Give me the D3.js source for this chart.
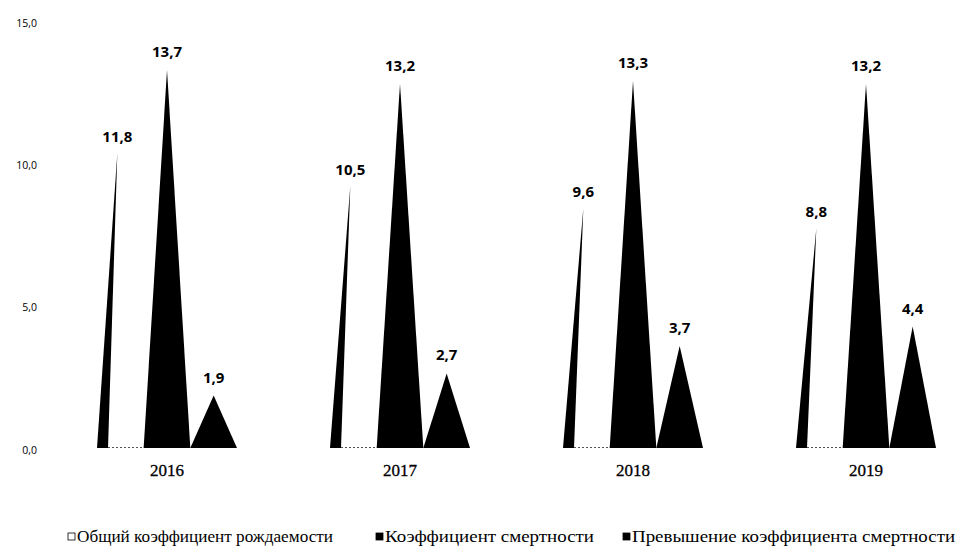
<!DOCTYPE html>
<html><head><meta charset="utf-8">
<script src="https://cdn.jsdelivr.net/npm/d3@7"></script>
<style>
html,body{margin:0;padding:0;background:#fff;}
svg{display:block;}
</style></head>
<body>
<svg id="chart" width="959" height="549"></svg>
<script>
const categories = ["2016", "2017", "2018", "2019"];
const seriesNames = ["Общий коэффициент рождаемости", "Коэффициент смертности", "Превышение коэффициента смертности"];
const birthRate = [11.8, 10.5, 9.6, 8.8];
const deathRate = [13.7, 13.2, 13.3, 13.2];
const excess = [1.9, 2.7, 3.7, 4.4];
const yTicks = [0, 5, 10, 15];
const yTickLabels = ["0,0", "5,0", "10,0", "15,0"];

const svg = d3.select("#chart");
// cones stand on the floor in front; axis labels sit on the back wall (3D chart)
const y = d3.scaleLinear().domain([0, 15]).range([448, 34]);
const yWall = d3.scaleLinear().domain([0, 15]).range([450, 23]);
const x = d3.scalePoint().domain(categories).range([167, 866]);
const inner = d3.scaleBand().domain([0, 1, 2]).range([-70, 70]).padding(0);
const fmt = v => d3.format(".1f")(v).replace(".", ",");
// visible tip of the shaded 3D cone of the first series fades out lower
const coneTip = 0.905;

svg.append("g").selectAll("text").data(yTicks).join("text")
  .attr("x", 37).attr("y", d => yWall(d)).attr("dy", "0.35em")
  .attr("text-anchor", "end")
  .attr("font-family", "Open Sans, sans-serif").attr("font-size", 10.5)
  .text((d, i) => yTickLabels[i]);

const rows = categories.map((c, i) => ({c, vals: [birthRate[i], deathRate[i], excess[i]]}));
const g = svg.append("g");
const lblFont = "Open Sans, sans-serif";
rows.forEach(r => {
  const cx = x(r.c);
  r.vals.forEach((v, s) => {
    const x0 = cx + inner(s), w = inner.bandwidth();
    const base = y(0);
    if (s === 0) {
      const top = y(v * coneTip);
      const ax = x0 + w / 2 - 3;
      g.append("path").attr("d", `M${x0},${base}L${x0 + w},${base}L${ax},${top}Z`).attr("fill", "#fff");
      g.append("path").attr("d", `M${x0},${base}L${x0 + 11},${base}L${ax},${top}Z`).attr("fill", "#000");
      g.append("line").attr("x1", x0 + 11).attr("x2", x0 + w).attr("y1", base - 0.5).attr("y2", base - 0.5)
        .attr("stroke", "#555").attr("stroke-width", 1).attr("stroke-dasharray", "2,2");
      g.append("text").attr("x", ax).attr("y", top - 11)
        .attr("text-anchor", "middle").attr("font-family", lblFont)
        .attr("font-weight", "bold").attr("font-size", 15).text(fmt(v));
    } else {
      const top = y(v);
      const ax = x0 + w / 2;
      g.append("path").attr("d", `M${x0},${base}L${x0 + w},${base}L${ax},${top}Z`).attr("fill", "#000");
      g.append("text").attr("x", ax).attr("y", top - 13)
        .attr("text-anchor", "middle").attr("font-family", lblFont)
        .attr("font-weight", "bold").attr("font-size", 15).text(fmt(v));
    }
  });
});

svg.append("g").selectAll("text").data(categories).join("text")
  .attr("x", d => x(d)).attr("y", 476)
  .attr("text-anchor", "middle")
  .attr("font-family", "Liberation Serif, serif").attr("font-size", 17)
  .attr("stroke", "#000").attr("stroke-width", 0.3)
  .text(d => d);

const legX = [68, 376, 623];
const legW = [256, 209, 323];
const lg = svg.append("g").attr("transform", "translate(0,537)");
seriesNames.forEach((n, i) => {
  lg.append("rect").attr("x", legX[i]).attr("y", -4).attr("width", 7).attr("height", 7)
    .attr("fill", i === 0 ? "#fff" : "#000").attr("stroke", "#000").attr("stroke-width", 0.8);
  lg.append("text").attr("x", legX[i] + 9).attr("y", 0).attr("dy", "0.33em")
    .attr("font-family", "Liberation Serif, serif").attr("font-size", 16)
    .attr("textLength", legW[i]).attr("lengthAdjust", "spacingAndGlyphs")
    .text(n);
});
</script>
</body></html>
